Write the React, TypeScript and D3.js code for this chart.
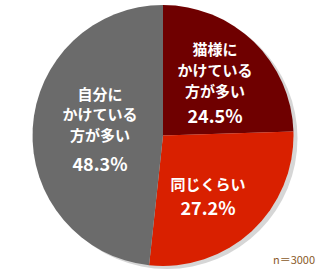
import React from "react";
import * as d3 from "d3";

const categories = ["猫様にかけている方が多い", "同じくらい", "自分にかけている方が多い"];
const values = [24.5, 27.2, 48.3];
const labelLines = [["猫様に", "かけている", "方が多い"], ["同じくらい"], ["自分に", "かけている", "方が多い"]];
const colors = ["#6f0000", "#d92000", "#6b6b6b"];
const note = "n＝3000";

const W = 335, H = 280;
const cx = 163, cy = 135.5, R = 130.5;

// label placement (in polar offsets relative to slice centroid)
const labelPos = [
  { x: 215, y: 48, gap: 21, pctGap: 25 },
  { x: 208, y: 183, gap: 21, pctGap: 24 },
  { x: 100, y: 93, gap: 20.5, pctGap: 29 },
];

export default function App() {
  const pie = d3.pie<number>().sort(null).value((d) => d);
  const arcs = pie(values);
  const arc = d3.arc<d3.PieArcDatum<number>>().innerRadius(0).outerRadius(R);
  const font = "'Noto Sans CJK JP', 'Noto Sans', sans-serif";
  return (
    <svg width={W} height={H} style={{ position: "absolute", left: 0, top: 0 }}>
      <rect width={W} height={H} fill="#fff" />
      <circle cx={cx + 4} cy={cy + 3} r={R} fill="#d6d6d6" />
      <g transform={`translate(${cx},${cy})`}>
        {arcs.map((a, i) => (
          <path key={categories[i]} d={arc(a) as string} fill={colors[i]} />
        ))}
      </g>
      {labelLines.map((lines, i) => {
        const p = labelPos[i];
        return (
          <g key={i} fill="#fff" fontFamily={font} fontWeight={700} textAnchor="middle">
            {lines.map((l, j) => (
              <text key={j} x={p.x} y={p.y + j * p.gap} fontSize={15} dominantBaseline="central">
                {l}
              </text>
            ))}
            <text
              x={p.x}
              y={p.y + (lines.length - 1) * p.gap + p.pctGap}
              fontSize={18}
              dominantBaseline="central"
            >
              {values[i].toFixed(1)}%
            </text>
          </g>
        );
      })}
      <text x={294} y={259} fontSize={11} fill="#8a5a2a" fontFamily={font} textAnchor="middle" dominantBaseline="central">
        {note}
      </text>
    </svg>
  );
}
